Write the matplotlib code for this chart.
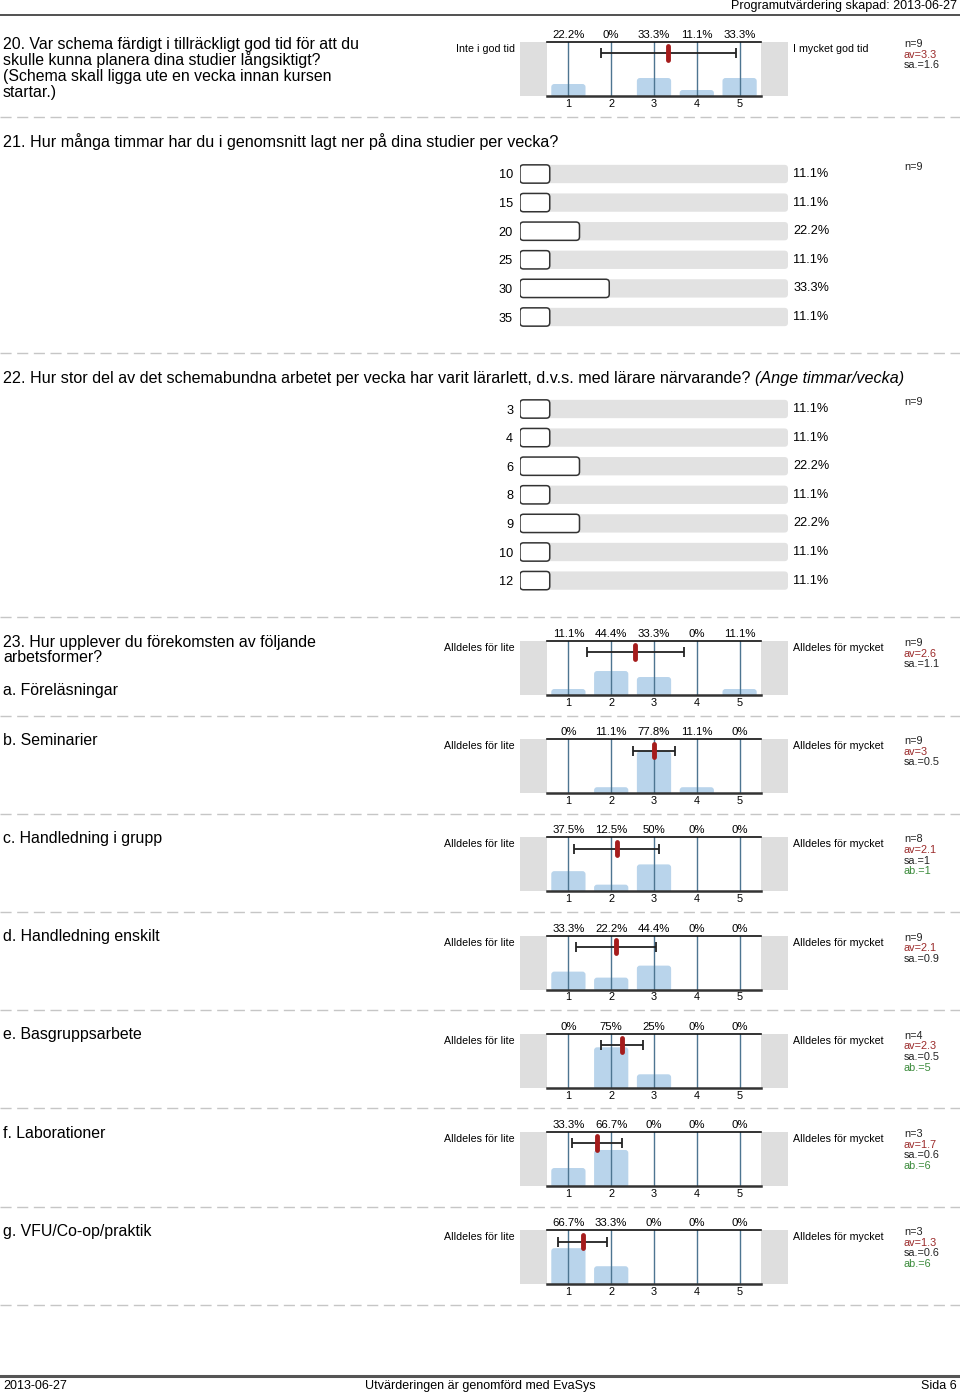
import matplotlib.pyplot as plt
from matplotlib.patches import Rectangle, FancyBboxPatch
from decimal import Decimal, ROUND_HALF_UP

plt.rcParams['font.family'] = ['Liberation Sans', 'DejaVu Sans']

W, H = 960, 1395

# --- Daten -------------------------------------------------------------
scale = [1, 2, 3, 4, 5]

q20_lines = ['20. Var schema färdigt i tillräckligt god tid för att du',
             'skulle kunna planera dina studier långsiktigt?',
             '(Schema skall ligga ute en vecka innan kursen',
             'startar.)']
q20_pct = [22.2, 0, 33.3, 11.1, 33.3]
q20_n = 9
q20_mean = 3.33
q20_sd = 1.58

q21_title = '21. Hur många timmar har du i genomsnitt lagt ner på dina studier per vecka?'
q21_labels = ['10', '15', '20', '25', '30', '35']
q21_pct = [11.1, 11.1, 22.2, 11.1, 33.3, 11.1]
q21_n = 9

q22_title = '22. Hur stor del av det schemabundna arbetet per vecka har varit lärarlett, d.v.s. med lärare närvarande?'
q22_hint = '(Ange timmar/vecka)'
q22_labels = ['3', '4', '6', '8', '9', '10', '12']
q22_pct = [11.1, 11.1, 22.2, 11.1, 22.2, 11.1, 11.1]
q22_n = 9

q23_lines = ['23. Hur upplever du förekomsten av följande', 'arbetsformer?']
q23_items = ['a. Föreläsningar', 'b. Seminarier', 'c. Handledning i grupp',
             'd. Handledning enskilt', 'e. Basgruppsarbete', 'f. Laborationer',
             'g. VFU/Co-op/praktik']
q23_pct = [[11.1, 44.4, 33.3, 0, 11.1],
           [0, 11.1, 77.8, 11.1, 0],
           [37.5, 12.5, 50, 0, 0],
           [33.3, 22.2, 44.4, 0, 0],
           [0, 75, 25, 0, 0],
           [33.3, 66.7, 0, 0, 0],
           [66.7, 33.3, 0, 0, 0]]
q23_n = [9, 9, 8, 9, 4, 3, 3]
q23_mean = [2.56, 3.0, 2.13, 2.11, 2.25, 1.67, 1.33]
q23_sd = [1.13, 0.5, 0.99, 0.93, 0.5, 0.58, 0.58]
q23_ab = [None, None, 1, None, 5, 6, 6]

NARROW = ['Liberation Sans Narrow', 'Liberation Sans', 'DejaVu Sans']
TITLE_FS = 11.4


def fmt1(v):
    s = str(Decimal(str(v)).quantize(Decimal('0.1'), rounding=ROUND_HALF_UP))
    return s[:-2] if s.endswith('.0') else s


def fmt_pct(p):
    return f'{p:g}%'


def px_axes(fig, x0, y0, x1, y1):
    return fig.add_axes([x0 / W, 1 - y1 / H, (x1 - x0) / W, (y1 - y0) / H])


def separator(bg, y):
    bg.plot([0, W], [y, y], color='#c6c6c6', lw=1, dashes=(8, 4))


def stats_block(bg, y, n, mean=None, sd=None, ab=None):
    rows = [(f'n={n}', '#222222')]
    if mean is not None:
        rows.append((f'av={fmt1(mean)}', '#9b2a2a'))
        rows.append((f'sa.={fmt1(sd)}', '#222222'))
    if ab is not None:
        rows.append((f'ab.={ab}', '#3a8a3a'))
    for k, (txt, col) in enumerate(rows):
        bg.text(904, y + k * 10.6, txt, fontsize=7.8, color=col, va='center')


def hist_panel(fig, bg, top, pct, n, mean, sd, ab, left, right):
    bottom = top + 54
    # graue Randblöcke
    bg.add_patch(Rectangle((520, top), 27, 54, color='#dedede', lw=0))
    bg.add_patch(Rectangle((761, top), 27, 54, color='#dedede', lw=0))

    ax = px_axes(fig, 547, top, 761, bottom)
    ax.set_xlim(0.5, 5.5)
    ax.set_ylim(0, 100)
    # Balken mit leicht abgerundeten Ecken
    asp = (100 / 54) / (1 / 42.75)
    for x, p in zip(scale, pct):
        if p > 0:
            ax.add_patch(FancyBboxPatch((x - 0.4, -3), 0.8, p + 3,
                                        boxstyle='round,pad=0,rounding_size=0.07',
                                        mutation_aspect=asp, fc='#b9d4eb', ec='none', zorder=1))
    for x in scale:
        ax.axvline(x, color='#4d7591', lw=1, zorder=2)
    for s in ['left', 'right']:
        ax.spines[s].set_visible(False)
    ax.spines['top'].set_color('#111111')
    ax.spines['top'].set_linewidth(1.2)
    ax.spines['bottom'].set_color('#333333')
    ax.spines['bottom'].set_linewidth(1.8)
    ax.spines['bottom'].set_zorder(6)
    ax.set_yticks([])
    ax.set_xticks(scale)
    ax.tick_params(axis='x', length=0, labelsize=7.8, pad=2)
    for x, p in zip(scale, pct):
        ax.annotate(fmt_pct(p), xy=(x, 100), xytext=(0, 5), textcoords='offset points',
                    ha='center', va='center', fontsize=8.2, annotation_clip=False)

    # Mittelwert und Standardabweichung
    ax.errorbar(mean, 79, xerr=sd, fmt='none', ecolor='#222222', elinewidth=1.3,
                capsize=3.5, capthick=1.3, zorder=4)
    ax.plot([mean, mean], [67, 92], color='#a51c1c', lw=3.5,
            solid_capstyle='round', zorder=5)

    bg.text(515, top + 7, left, ha='right', va='center', fontsize=7.7)
    bg.text(793, top + 7, right, ha='left', va='center', fontsize=7.7)
    stats_block(bg, top + 2, n, mean, sd, ab)


def hbar_panel(fig, bg, y_first, labels, pct, n):
    rows = len(labels)
    step = 28.6
    y0 = y_first - step / 2
    ax = px_axes(fig, 520, y0, 788, y0 + rows * step)
    ax.set_xlim(0, 100)
    ax.set_ylim(rows - 0.5, -0.5)
    asp = (268 / 100) / step
    h = 0.64
    for i, p in enumerate(pct):
        ax.add_patch(FancyBboxPatch((0, i - h / 2), 100, h,
                                    boxstyle='round,pad=0,rounding_size=1.3',
                                    mutation_aspect=asp, fc='#e2e2e2', ec='none'))
        ax.add_patch(FancyBboxPatch((0, i - h / 2), p, h,
                                    boxstyle='round,pad=0,rounding_size=1.3',
                                    mutation_aspect=asp, fc='white', ec='#333333', lw=1.1))
        ax.text(102, i, fmt_pct(p), va='center', fontsize=9.2)
    for s in ax.spines.values():
        s.set_visible(False)
    ax.set_xticks([])
    ax.set_yticks(range(rows))
    ax.set_yticklabels(labels)
    ax.tick_params(axis='y', length=0, pad=5, labelsize=9.2)
    stats_block(bg, y_first - 7, n)


def plot_page():
    fig = plt.figure(figsize=(W / 100, H / 100), dpi=100)
    bg = fig.add_axes([0, 0, 1, 1])
    bg.set_xlim(0, W)
    bg.set_ylim(H, 0)
    bg.axis('off')

    # Kopfzeile
    bg.plot([0, W], [15, 15], color='#333333', lw=1.2)
    bg.text(957, 6, 'Programutvärdering skapad: 2013-06-27', ha='right', va='center', fontsize=9)

    # Frage 20
    for k, line in enumerate(q20_lines):
        bg.text(3, 44 + k * 16, line, va='center', fontsize=TITLE_FS)
    hist_panel(fig, bg, 42, q20_pct, q20_n, q20_mean, q20_sd, None,
               'Inte i god tid', 'I mycket god tid')
    separator(bg, 117)

    # Frage 21
    bg.text(3, 142, q21_title, va='center', fontsize=11.6, family=NARROW)
    hbar_panel(fig, bg, 174, q21_labels, q21_pct, q21_n)
    separator(bg, 353)

    # Frage 22
    t22 = bg.text(3, 378, q22_title, va='center', fontsize=11.6, family=NARROW)
    bg.annotate(q22_hint, xy=(1, 0.5), xycoords=t22, xytext=(3, 0), textcoords='offset points',
                va='center', fontsize=11.6, family=NARROW, style='italic')
    hbar_panel(fig, bg, 409, q22_labels, q22_pct, q22_n)
    separator(bg, 617)

    # Frage 23
    for k, line in enumerate(q23_lines):
        bg.text(3, 642 + k * 16, line, va='center', fontsize=TITLE_FS)
    step = 98.2
    for i, item in enumerate(q23_items):
        top = 641 + i * step
        ty = 690 if i == 0 else top + 1
        bg.text(3, ty, item, va='center', fontsize=TITLE_FS)
        hist_panel(fig, bg, top, q23_pct[i], q23_n[i], q23_mean[i], q23_sd[i], q23_ab[i],
                   'Alldeles för lite', 'Alldeles för mycket')
        separator(bg, top + 74.5)

    # Fußzeile
    bg.plot([0, W], [1376, 1376], color='#555555', lw=2.2)
    bg.text(3, 1386, '2013-06-27', va='center', fontsize=9, family=NARROW)
    bg.text(480, 1386, 'Utvärderingen är genomförd med EvaSys', ha='center', va='center',
            fontsize=9, family=NARROW)
    bg.text(957, 1386, 'Sida 6', ha='right', va='center', fontsize=9, family=NARROW)

    fig.savefig('out.png', dpi=100)


if __name__ == '__main__':
    plot_page()
